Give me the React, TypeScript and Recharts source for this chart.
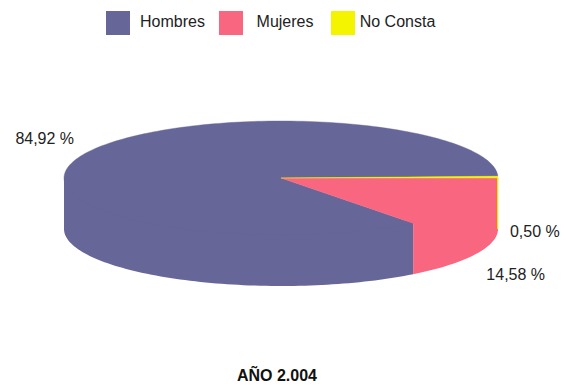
import { Cell, Legend, Pie, PieChart } from 'recharts'

const categories = ['Hombres', 'Mujeres', 'No Consta']
const percents = [84.92, 14.58, 0.5]
const colors = ['#666699', '#F96680', '#F4F400']
const title = 'AÑO 2.004'

const data = categories.map((name, i) => ({ name, value: percents[i] }))

const FONT = '"Liberation Sans", Arial, sans-serif'
const TILT = 57 / 217
const DEPTH = 51

type Pt = [number, number]

function onEllipse(cx: number, cy: number, rx: number, ry: number, deg: number): Pt {
  const r = (deg * Math.PI) / 180
  return [cx + rx * Math.cos(r), cy - ry * Math.sin(r)]
}

function arc(cx: number, cy: number, rx: number, ry: number, a0: number, a1: number): Pt[] {
  const n = Math.max(2, Math.ceil(Math.abs(a1 - a0) / 1.5))
  const pts: Pt[] = []
  for (let i = 0; i <= n; i++) pts.push(onEllipse(cx, cy, rx, ry, a0 + ((a1 - a0) * i) / n))
  return pts
}

const toPath = (pts: Pt[]) =>
  pts.map(([x, y], i) => `${i ? 'L' : 'M'}${x.toFixed(2)},${y.toFixed(2)}`).join(' ') + ' Z'

// draws a sector as a slice of a tilted, extruded disc
function Slice3D(props: any) {
  const { cx, cy, outerRadius, startAngle, endAngle, fill } = props
  const rx = outerRadius
  const ry = outerRadius * TILT
  const s = Math.min(startAngle, endAngle)
  const e = Math.max(startAngle, endAngle)

  // wall starts a bit inside the top face so no seam shows along the rim
  const walls: string[] = []
  for (const [lo, hi] of [[-180, 0], [180, 360], [540, 720]]) {
    const a0 = Math.max(s, lo)
    const a1 = Math.min(e, hi)
    if (a1 > a0) {
      const inner = arc(cx, cy, rx * 0.95, ry * 0.95, a0, a1)
      const bottom = arc(cx, cy, rx, ry, a0, a1).map(([x, y]) => [x, y + DEPTH] as Pt).reverse()
      const end = onEllipse(cx, cy, rx, ry, a1)
      const start = onEllipse(cx, cy, rx, ry, a0)
      walls.push(toPath([...inner, end, ...bottom, start]))
    }
  }

  let edge = null
  if (walls.length === 0) {
    const [x, y] = onEllipse(cx, cy, rx, ry, s)
    edge = <line x1={x - 0.3} y1={y} x2={x - 0.3} y2={y + DEPTH} stroke={fill} strokeWidth={1.2} />
  }

  const face = toPath([[cx, cy], ...arc(cx, cy, rx, ry, s, e)])

  return (
    <g>
      {walls.map((d, i) => (
        <path key={i} d={d} fill={fill} stroke="none" />
      ))}
      {edge}
      <path d={face} fill={fill} stroke={fill} strokeWidth={0.4} strokeLinejoin="round" />
    </g>
  )
}

function SliceLabel(props: any) {
  const { cx, cy, outerRadius, midAngle, value } = props
  const r = (midAngle * Math.PI) / 180
  const cos = Math.cos(r)
  const sin = Math.sin(r)
  const x = cx + outerRadius * 1.055 * cos
  const y = cy - outerRadius * TILT * 1.65 * sin + (sin < 0.05 ? DEPTH + 3 : 0)
  return (
    <text
      x={x}
      y={y + 6}
      textAnchor={cos >= 0 ? 'start' : 'end'}
      fill="#222"
      fontSize={16}
      fontFamily={FONT}
    >
      {value.toFixed(2).replace('.', ',')} %
    </text>
  )
}

function LegendBox({ payload }: any) {
  return (
    <div style={{ position: 'relative', height: 40, fontFamily: FONT, fontSize: 16, color: '#222' }}>
      {(payload || []).map((p: any, i: number) => (
        <div key={p.value} style={{ position: 'absolute', left: 106 + i * 112.5, top: 11, width: 112, height: 24 }}>
          <div style={{ position: 'absolute', left: 0, top: 0, width: 24, height: 24, background: p.color }} />
          <div style={{ position: 'absolute', left: 24, top: -1, width: 85, lineHeight: '24px', textAlign: 'center', whiteSpace: 'nowrap' }}>
            {p.value}
          </div>
        </div>
      ))}
    </div>
  )
}

export default function App() {
  return (
    <div style={{ position: 'absolute', left: 0, top: 0, width: 570, height: 387, background: '#fff' }}>
      <PieChart width={570} height={387} margin={{ top: 0, right: 0, bottom: 0, left: 0 }}>
        <Legend
          layout="horizontal"
          verticalAlign="middle"
          content={<LegendBox />}
          wrapperStyle={{ top: 0, left: 0, width: 570, height: 40 }}
        />
        <Pie
          data={data}
          dataKey="value"
          nameKey="name"
          cx={281}
          cy={178}
          outerRadius={217}
          startAngle={1.8}
          endAngle={361.8}
          stroke="none"
          shape={Slice3D}
          activeShape={Slice3D}
          inactiveShape={Slice3D}
          label={SliceLabel}
          labelLine={false}
          isAnimationActive={false}
        >
          {data.map((d, i) => (
            <Cell key={d.name} fill={colors[i]} />
          ))}
        </Pie>
      </PieChart>
      <div
        style={{
          position: 'absolute',
          left: 0,
          top: 366,
          width: 554,
          textAlign: 'center',
          fontFamily: FONT,
          fontSize: 16,
          fontWeight: 'bold',
          lineHeight: '20px',
          color: '#111',
        }}
      >
        {title}
      </div>
    </div>
  )
}
